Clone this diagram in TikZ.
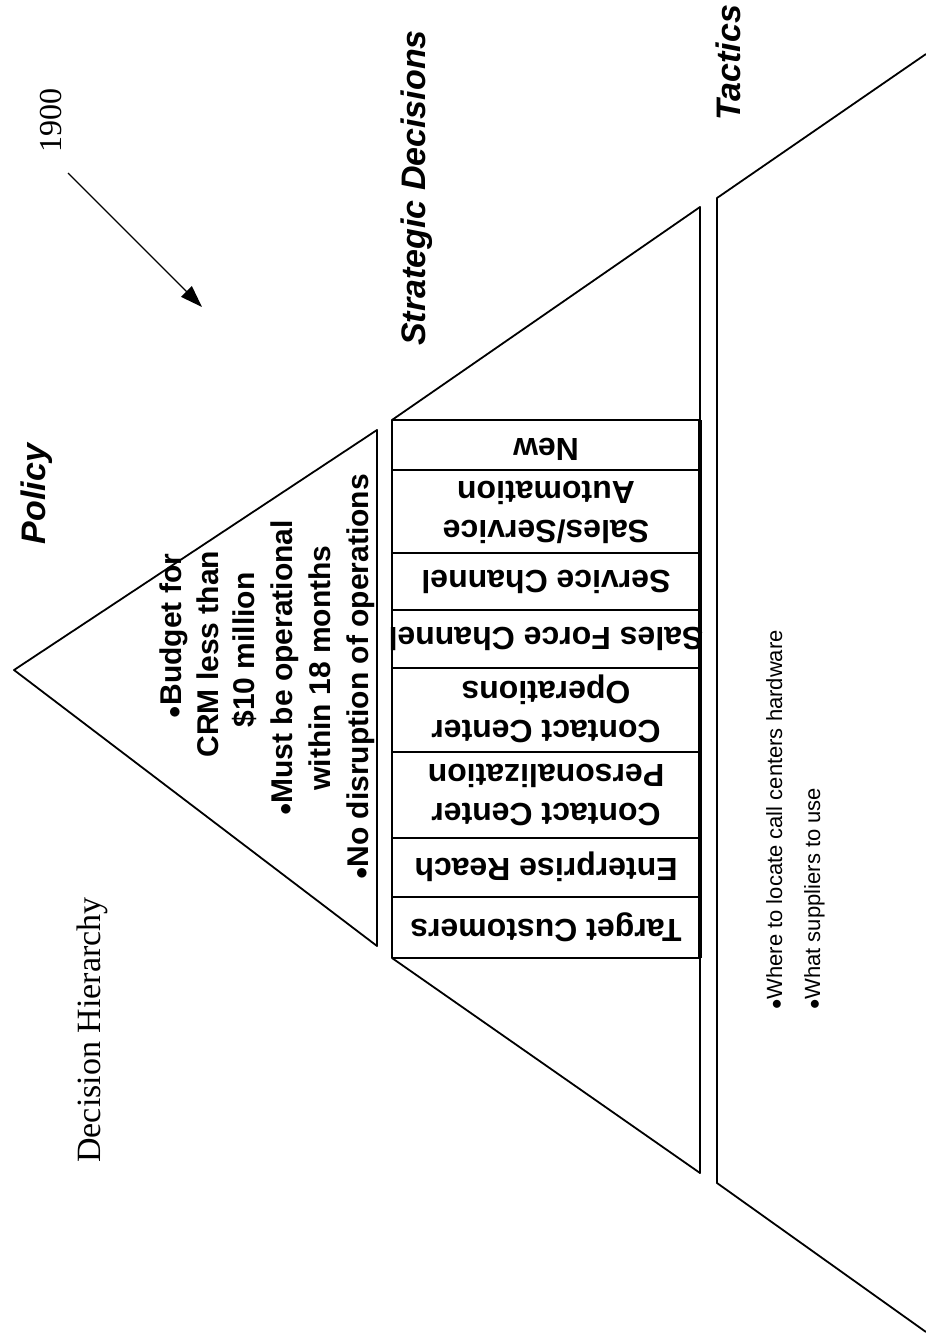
\documentclass[tikz,border=0pt]{standalone}
\usepackage{fontspec}
\setmainfont{Liberation Serif}
\newfontfamily\arialf{Liberation Sans}
\usetikzlibrary{arrows.meta}
\begin{document}
\begin{tikzpicture}[x=1pt,y=-1pt,line join=round,
  edge/.style={line width=1.8pt},
  boxline/.style={line width=2pt},
  boxtxt/.style={font=\arialf\bfseries\fontsize{32}{39}\selectfont,rotate=180,align=center,inner sep=0pt},
  poltxt/.style={font=\arialf\bfseries\fontsize{30}{36}\selectfont,rotate=90,anchor=base,inner sep=0pt},
  lvl/.style={font=\arialf\bfseries\itshape\fontsize{34}{40}\selectfont,rotate=90,anchor=base,inner sep=0pt},
  tactxt/.style={font=\arialf\fontsize{22}{26}\selectfont,rotate=90,anchor=base west,inner sep=0pt},
  serif/.style={font=\fontsize{34}{40}\selectfont,rotate=90,anchor=base,inner sep=0pt}]
\useasboundingbox (0,0) rectangle (926,1339);

% title and reference numeral
\node[serif] (title) at (100,1030) {Decision Hierarchy};
\node[serif,font=\fontsize{32}{38}\selectfont] (num) at (61,120) {1900};
\coordinate (arrstart) at (68,173);
\coordinate (arrend) at (202,307);
\draw[line width=1.3pt,-{Triangle[length=22pt,width=15pt]}] (arrstart) -- (arrend);

% level labels
\node[lvl] (policy) at (45,494) {Policy};
\node[lvl] (strategic) at (425,188) {Strategic Decisions};
\node[lvl] (tactics) at (740,63) {Tactics};

% policy triangle
\coordinate (apex) at (14,670);
\coordinate (ptop) at (377,430);
\coordinate (pbot) at (377,946);
\draw[edge] (apex) -- (ptop) -- (pbot) -- cycle;
\node[poltxt] (p1) at (181,636) {$\bullet$Budget for};
\node[poltxt] (p2) at (218,654) {CRM less than};
\node[poltxt] (p3) at (254,650) {\$10 million};
\node[poltxt] (p4) at (292,668) {$\bullet$Must be operational};
\node[poltxt] (p5) at (330,668) {within 18 months};
\node[poltxt] (p6) at (368,677) {$\bullet$No disruption of operations};

% strategic decisions trapezoid
\coordinate (stl) at (392,420);
\coordinate (str) at (700,207);
\coordinate (sbr) at (700,1173);
\coordinate (sbl) at (392,958);
\draw[edge] (stl) -- (str) -- (sbr) -- (sbl);
\foreach \ya/\yb in {420/470,470/553,553/610,610/668,668/752,752/838,838/897,897/958}{
  \draw[boxline] (392,\ya) rectangle (700,\yb);
}
\draw[line width=3.2pt] (700,420) -- (700,958);
\node[boxtxt] (b1) at (546,927) {Target Customers};
\node[boxtxt] (b2) at (546,867) {Enterprise Reach};
\node[boxtxt] (b3) at (546,795) {Contact Center\\Personalization};
\node[boxtxt] (b4) at (546,709) {Contact Center\\Operations};
\node[boxtxt] (b5) at (546,639) {Sales Force Channel};
\node[boxtxt] (b6) at (546,582) {Service Channel};
\node[boxtxt] (b7) at (546,512) {Sales/Service\\Automation};
\node[boxtxt] (b8) at (546,449) {New};

% tactics
\coordinate (ttr) at (926,54);
\coordinate (ttl) at (717,198);
\coordinate (tbl) at (717,1183);
\coordinate (tbr) at (926,1332);
\draw[edge] (ttr) -- (ttl) -- (tbl) -- (tbr);
\node[tactxt] (t1) at (782,1010) {$\bullet$Where to locate call centers hardware};
\node[tactxt] (t2) at (820,1010) {$\bullet$What suppliers to use};
\end{tikzpicture}
\end{document}
